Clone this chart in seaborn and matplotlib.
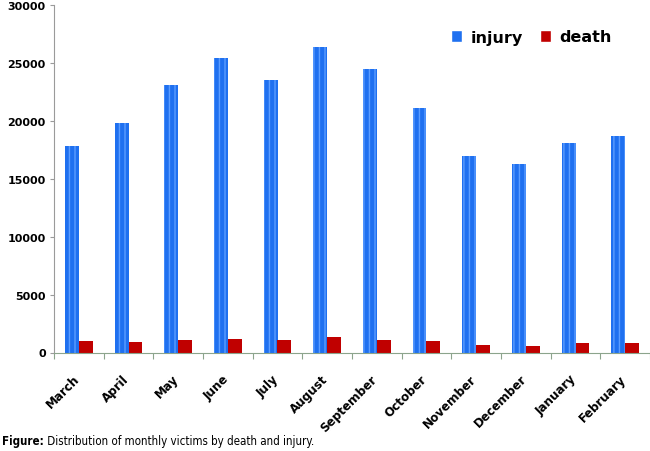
import numpy as np
import pandas as pd
import seaborn as sns
import matplotlib.pyplot as plt
import matplotlib.transforms as mtransforms

# data
months = ['March', 'April', 'May', 'June', 'July', 'August', 'September',
          'October', 'November', 'December', 'January', 'February']
injury = [17850, 19800, 23100, 25400, 23550, 26400, 24500, 21150, 16950, 16250, 18100, 18700]
death = [1000, 880, 1060, 1180, 1090, 1320, 1090, 1030, 650, 590, 790, 790]

df = pd.DataFrame({'month': months * 2,
                   'value': injury + death,
                   'kind': ['injury'] * 12 + ['death'] * 12})

sns.set_style('white')
plt.rcParams['hatch.linewidth'] = 1.0
plt.rcParams['text.color'] = 'black'

fig = plt.figure(figsize=(6.5, 4.52), dpi=100)
ax = fig.add_axes([54 / 650, 1 - 353.5 / 452, 596 / 650, 347.5 / 452])

sns.barplot(data=df, x='month', y='value', hue='kind', order=months,
            hue_order=['injury', 'death'],
            palette={'injury': '#1f70f0', 'death': '#c00000'},
            width=0.56, saturation=1, ax=ax)

# striped look of the blue bars
for p in ax.containers[0]:
    p.set_hatch('|||')
    p.set_edgecolor('#5c9dff')
    p.set_linewidth(0)
for p in ax.containers[1]:
    p.set_linewidth(0)

ax.set_xlim(-0.5, 11.5)
ax.set_ylim(0, 30000)
ax.set_yticks(range(0, 30001, 5000))
ax.set_xlabel('')
ax.set_ylabel('')

sns.despine(ax=ax)
ax.spines['left'].set_color('#9a9a9a')
ax.spines['bottom'].set_color('#8ca48c')

ax.tick_params(axis='y', left=True, length=3, width=0.8, color='#9a9a9a',
               direction='out', pad=3, labelcolor='black')
for lab in ax.get_yticklabels():
    lab.set_fontweight('bold')
    lab.set_fontsize(8)

cond = {'family': 'DejaVu Sans', 'stretch': 'condensed'}

ax.set_xticks(np.arange(-0.5, 12, 1), minor=True)
ax.tick_params(axis='x', which='major', length=0, pad=14, labelcolor='black')
ax.tick_params(axis='x', which='minor', bottom=True, length=4, width=0.8,
               color='#8ca48c', direction='out')
shift = mtransforms.ScaledTranslation(-6 / 100, 0, fig.dpi_scale_trans)
ax.set_xticks(range(12))
ax.set_xticklabels(months, rotation=45, ha='right', va='top',
                   rotation_mode='anchor',
                   fontdict=dict(cond, weight='bold', size=9.5))
for lab in ax.get_xticklabels():
    lab.set_transform(lab.get_transform() + shift)

handles, labels = ax.get_legend_handles_labels()
ax.legend(handles, labels, loc='center left',
          bbox_to_anchor=(451 / 650, 1 - 38 / 452),
          bbox_transform=fig.transFigure, ncol=2, frameon=False,
          handlelength=0.7, handleheight=0.7, handletextpad=0.5,
          columnspacing=1.1, borderpad=0, borderaxespad=0,
          prop={'family': 'DejaVu Sans', 'weight': 'bold', 'size': 11.5})

# caption
t1 = fig.text(2 / 650, 1 - 445 / 452, 'Figure:', weight='bold', size=8.3,
              va='baseline', **cond)
ax.annotate(' Distribution of monthly victims by death and injury.',
            xy=(1, 0), xycoords=t1, va='bottom', ha='left',
            size=8.3, annotation_clip=False, **cond)

fig.savefig('out.png', dpi=100)
